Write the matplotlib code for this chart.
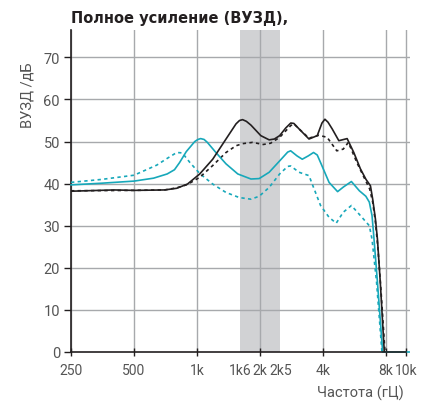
import numpy as np
import matplotlib
matplotlib.use("Agg")
import matplotlib.pyplot as plt

plt.rcParams['font.family'] = ['Roboto', 'DejaVu Sans']

# data (frequency in Hz, gain in dB)
black_f = [250, 400, 500, 700, 800, 900, 1030, 1188, 1375, 1535, 1595, 1650, 1720, 1809, 2016,
           2210, 2340, 2480, 2650, 2803, 2900, 3070, 3425, 3750, 3950, 4080, 4220, 4420, 4755,
           5210, 5605, 6030, 6410, 6730, 6900, 7110, 7270, 7500, 7840]
black_db = [38.2, 38.5, 38.4, 38.5, 38.9, 39.9, 42.3, 45.8, 50.6, 54.2, 55.0, 55.2, 54.8, 53.9, 51.4,
            50.4, 50.6, 51.4, 53.2, 54.4, 54.3, 53.0, 50.6, 51.4, 54.4, 55.3, 54.6, 53.0, 50.2,
            50.7, 47.4, 43.5, 41.0, 39.5, 36.3, 31.6, 26.8, 16.6, 0.0]

black_dash_f = [250, 500, 700, 800, 900, 1030, 1188, 1375, 1535, 1650, 1840, 2070, 2245, 2480,
                2803, 2900, 3070, 3425, 3820, 4180, 4650, 4990, 5280, 5800, 6270, 6680, 6900,
                7110, 7300, 7550, 7900]
black_dash_db = [38.3, 38.4, 38.5, 39.0, 39.8, 41.5, 44.3, 47.4, 49.0, 49.5, 49.8, 49.3, 49.6, 51.0,
                 53.8, 54.2, 53.0, 50.8, 51.5, 51.0, 47.8, 48.2, 49.8, 45.0, 41.5, 38.7, 35.6,
                 30.9, 25.0, 15.0, 0.0]

cyan_f = [250, 350, 500, 620, 720, 780, 825, 888, 975, 1010, 1040, 1080, 1120, 1230, 1375, 1565,
          1809, 1980, 2210, 2480, 2710, 2800, 3000, 3180, 3400, 3600, 3750, 3890, 4270, 4690,
          5000, 5460, 5960, 6400, 6650, 6850, 6960, 7270, 7700, 10300]
cyan_db = [39.7, 40.1, 40.6, 41.3, 42.3, 43.3, 45.0, 47.6, 50.0, 50.5, 50.7, 50.5, 49.8, 47.4, 44.7,
           42.3, 41.1, 41.2, 42.7, 45.4, 47.5, 47.8, 46.6, 45.8, 46.6, 47.4, 46.8, 45.0, 40.3,
           38.1, 39.2, 40.5, 38.3, 37.0, 35.6, 32.4, 28.4, 16.6, 0.0, 0.0]

cyan_dash_f = [250, 350, 500, 642, 720, 800, 850, 925, 1030, 1188, 1375, 1590, 1809, 1980, 2210,
               2480, 2710, 2800, 3070, 3425, 3600, 3890, 4270, 4620, 4990, 5460, 6030, 6650,
               6850, 7200, 7640]
cyan_dash_db = [40.3, 41.0, 42.0, 44.4, 46.0, 47.4, 47.3, 45.0, 42.4, 39.9, 37.9, 36.7, 36.3, 37.0, 39.1,
                42.3, 44.1, 44.2, 42.7, 41.9, 39.1, 34.8, 32.0, 30.6, 33.2, 34.8, 32.4, 30.0,
                26.8, 16.6, 0.0]

band = (1600, 2500)
xticks = [250, 500, 1000, 1600, 2000, 2500, 4000, 8000, 10000]
xticklabels = ['250', '500', '1k', '1k6', '2k', '2k5', '4k', '8k', '10k']
xgrid = [250, 500, 1000, 2000, 4000, 8000, 10000]
yticks = [0, 10, 20, 30, 40, 50, 60, 70]

black = '#231f20'
cyan = '#17a8ba'
gray_txt = '#555555'

fig = plt.figure(figsize=(4.21, 4.02), dpi=100)
ax = fig.add_axes([71 / 421, 49 / 402, 339 / 421, 322 / 402])

ax.set_xscale('log')
ax.set_xlim(250, 10400)
ax.set_ylim(0, 76.5)

ax.axvspan(band[0], band[1], color='#d1d2d4', zorder=0, lw=0)
for f in xgrid:
    ax.axvline(f, color='#a7a9ac', lw=1, zorder=1)
for v in yticks[1:]:
    ax.axhline(v, color='#a7a9ac', lw=1, zorder=1)

ax.plot(cyan_dash_f, cyan_dash_db, color=cyan, lw=1.2, ls=(0, (2, 2)), zorder=3)
ax.plot(black_dash_f, black_dash_db, color=black, lw=1.2, ls=(0, (2, 2)), zorder=3)
ax.plot(cyan_f, cyan_db, color=cyan, lw=1.2, zorder=4, clip_on=False)
ax.plot(black_f, black_db, color=black, lw=1.2, zorder=4)

ax.spines['top'].set_visible(False)
ax.spines['right'].set_visible(False)
ax.spines['left'].set_color(black)
ax.spines['bottom'].set_color(black)
ax.spines['left'].set_linewidth(1.2)
ax.spines['bottom'].set_linewidth(1.2)
ax.spines['bottom'].set_bounds(250, 10000)
ax.spines['bottom'].set_zorder(5)

ax.set_xticks(xticks)
ax.set_xticklabels(xticklabels)
ax.xaxis.set_minor_locator(matplotlib.ticker.NullLocator())
ax.set_yticks(yticks)
ax.tick_params(axis='y', direction='out', length=5, width=1, color=black,
               labelsize=10.5, labelcolor=gray_txt, pad=3)
ax.tick_params(axis='x', direction='inout', length=6, width=1, color=black,
               labelsize=10, labelcolor=gray_txt, pad=5)
for t, f in zip(ax.xaxis.get_major_ticks(), xticks):
    if f in (1600, 2500):
        t.tick1line.set_visible(False)

fig.text(71 / 421, 1 - 18 / 402, 'Полное усиление (ВУЗД),', fontsize=10.5,
         fontweight='bold', color=black, family=['DejaVu Sans'],
         ha='left', va='center')
fig.text(28 / 421, 1 - 95 / 402, 'ВУЗД /дБ', rotation=90, fontsize=10.5,
         color=gray_txt, ha='center', va='center')
fig.text(404 / 421, 1 - 393 / 402, 'Частота (гЦ)', fontsize=10.5,
         color=gray_txt, ha='right', va='center')

fig.savefig('out.png', dpi=100)
